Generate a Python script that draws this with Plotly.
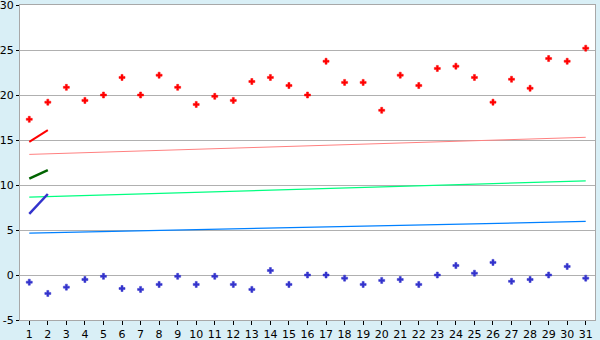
import plotly.graph_objects as go

days = list(range(1, 32))
red_points = [17.3, 19.2, 20.85, 19.4, 20.0, 21.95, 20.0, 22.2, 20.85, 18.95,
              19.85, 19.4, 21.5, 21.95, 21.05, 20.0, 23.75, 21.4, 21.4, 18.3,
              22.2, 21.05, 22.95, 23.2, 21.95, 19.2, 21.75, 20.75, 24.05, 23.75, 25.2]
blue_points = [-0.8, -2.05, -1.35, -0.5, -0.15, -1.5, -1.6, -1.05, -0.15, -1.05,
               -0.15, -1.05, -1.6, 0.5, -1.05, 0.0, 0.0, -0.35, -1.05, -0.6,
               -0.5, -1.05, 0.0, 1.05, 0.2, 1.4, -0.7, -0.5, 0.0, 0.95, -0.35]
pink_trend = [13.4, 15.3]
green_trend = [8.65, 10.45]
blue_trend = [4.65, 5.95]
trend_x = [1, 31]
short_x = [1, 2]
short_red = [14.8, 16.1]
short_green = [10.7, 11.65]
short_blue = [6.8, 9.0]
y_ticks = [-5, 0, 5, 10, 15, 20, 25, 30]

fig = go.Figure()
fig.add_trace(go.Scatter(x=trend_x, y=pink_trend, mode="lines", line=dict(color="#ff8080", width=1)))
fig.add_trace(go.Scatter(x=trend_x, y=green_trend, mode="lines", line=dict(color="#00ff80", width=1.2)))
fig.add_trace(go.Scatter(x=trend_x, y=blue_trend, mode="lines", line=dict(color="#0080ff", width=1.2)))
fig.add_trace(go.Scatter(x=short_x, y=short_red, mode="lines", line=dict(color="#ff0000", width=2)))
fig.add_trace(go.Scatter(x=short_x, y=short_green, mode="lines", line=dict(color="#006400", width=2.5)))
fig.add_trace(go.Scatter(x=short_x, y=short_blue, mode="lines", line=dict(color="#3333cc", width=2.5)))
fig.add_trace(go.Scatter(x=days, y=red_points, mode="markers",
                         marker=dict(symbol="cross", size=5, color="#ff0000",
                                     line=dict(width=0.5, color="#ff0000"))))
fig.add_trace(go.Scatter(x=days, y=blue_points, mode="markers",
                         marker=dict(symbol="cross", size=5, color="#3333cc",
                                     line=dict(width=0.5, color="#3333cc"))))

fig.update_layout(
    width=600, height=340,
    margin=dict(l=20, r=5, t=5, b=20, autoexpand=False),
    paper_bgcolor="#d9eff6",
    plot_bgcolor="#ffffff",
    showlegend=False,
    font=dict(family="DejaVu Sans", size=11, color="#000000"),
)
fig.update_xaxes(
    range=[0.5, 31.5], tickmode="array", tickvals=days, ticktext=[str(d) for d in days],
    showgrid=False, zeroline=False, showline=True, linecolor="#a8a8a8", linewidth=1, mirror=True,
    ticks="outside", ticklen=4, tickcolor="#000000", tickwidth=1, automargin=False,
    ticklabeloverflow="allow",
)
fig.update_yaxes(
    range=[-5, 30], tickmode="array", tickvals=y_ticks, ticktext=[str(v) for v in y_ticks],
    showgrid=True, gridcolor="#b0b0b0", gridwidth=1, zeroline=False,
    showline=True, linecolor="#a8a8a8", linewidth=1, mirror=True,
    ticks="outside", ticklen=3, tickcolor="#000000", tickwidth=1, automargin=False,
    ticklabeloverflow="allow",
)
fig.write_html("out.html")
